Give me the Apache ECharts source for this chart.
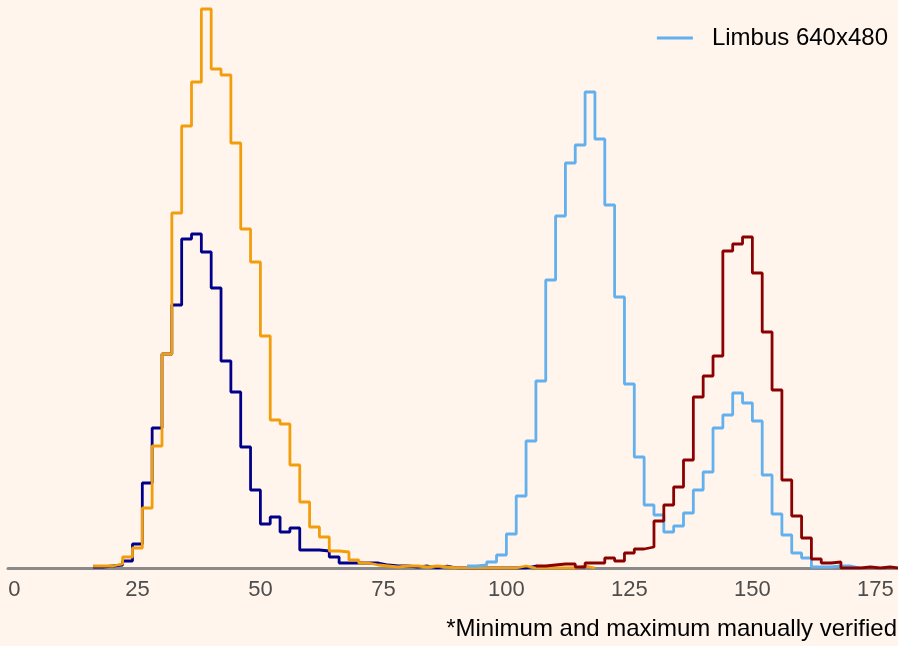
<!DOCTYPE html>
<html>
<head>
<meta charset="utf-8">
<script src="https://cdn.jsdelivr.net/npm/echarts@6/dist/echarts.min.js"></script>
<style>
  html, body { margin: 0; padding: 0; background: #FFF5EC; }
  #chart { width: 898px; height: 646px; }
</style>
</head>
<body>
<div id="chart"></div>
<script>
// Bin width (x units) shared by all histograms
const binWidth = 2;

// Navy histogram: first bin left edge and counts per bin
const navyStart = 16;
const navyCounts = [1,2,3,7,24,85,140,214,263,329,334,316,280,207,176,121,78,44,51,36,40,18,18,17,11,5,5,5,5,3,2,2,1,2,0,2,0,0,0,0,0,0,0,0,2,0];

// Orange histogram
const orangeStart = 16;
const orangeCounts = [2,2,4,11,20,60,122,214,355,442,486,559,499,493,425,339,306,232,148,144,103,66,41,31,17,16,8,5,3,2,1,2,2,1,2,1,0,0,0,0,0,0,0,2,0,0,0,0,0,2,0];

// Light blue histogram (legend: Limbus 640x480)
const limbusStart = 92;
const limbusCounts = [2,3,6,13,34,72,127,187,288,352,405,423,476,429,363,271,184,111,63,53,36,42,55,78,96,140,153,175,165,147,93,54,33,15,10,1,1,2,2,0];

// Dark red histogram
const redStart = 106;
const redCounts = [2,3,4,4,1,5,5,10,7,15,19,21,47,63,81,108,171,192,212,317,324,331,295,236,178,88,52,30,9,5,6,0,0,1,0,1,0];

// X tick labels
const xTicks = [0,25,50,75,100,125,150,175];

const legendName = 'Limbus 640x480';
const footnote = '*Minimum and maximum manually verified';

function stepPoints(start, counts) {
  const pts = counts.map((c, i) => [start + i * binWidth, c]);
  pts.push([start + counts.length * binWidth, counts[counts.length - 1]]);
  return pts;
}

function stepSeries(name, color, start, counts) {
  return {
    name: name,
    type: 'line',
    step: 'end',
    data: stepPoints(start, counts),
    showSymbol: false,
    symbol: 'none',
    silent: true,
    animation: false,
    lineStyle: { color: color, width: 2.8 },
    itemStyle: { color: color }
  };
}

const chart = echarts.init(document.getElementById('chart'), null, { renderer: 'canvas' });
chart.setOption({
  backgroundColor: '#FFF5EC',
  animation: false,
  grid: { left: 8, right: 0, top: 0, bottom: 78, containLabel: false },
  title: {
    text: footnote,
    right: -4,
    top: 612,
    textStyle: { fontFamily: 'Liberation Sans, Arial, sans-serif', fontSize: 24, fontWeight: 'normal', color: '#000' }
  },
  legend: {
    data: [legendName],
    right: 5,
    top: 21,
    icon: 'rect',
    itemWidth: 36,
    itemHeight: 3,
    textStyle: { fontFamily: 'Liberation Sans, Arial, sans-serif', fontSize: 24, color: '#000', padding: [0, 0, 0, 14] }
  },
  xAxis: {
    type: 'value',
    min: -1.3,
    max: 179.6,
    z: 3,
    splitLine: { show: false },
    axisTick: { show: false },
    axisLine: { show: true, lineStyle: { color: '#8A8A8A', width: 3 } },
    axisLabel: {
      customValues: xTicks,
      margin: 11,
      color: '#4D4D4D',
      fontFamily: 'Liberation Sans, Arial, sans-serif',
      fontSize: 22
    }
  },
  yAxis: {
    type: 'value',
    min: 0,
    max: 568,
    show: false
  },
  series: [
    stepSeries('Navy', '#00008B', navyStart, navyCounts),
    stepSeries('Orange', '#F29E0C', orangeStart, orangeCounts),
    stepSeries(legendName, '#62B0EE', limbusStart, limbusCounts),
    stepSeries('Dark red', '#8B0000', redStart, redCounts)
  ]
});
</script>
</body>
</html>
